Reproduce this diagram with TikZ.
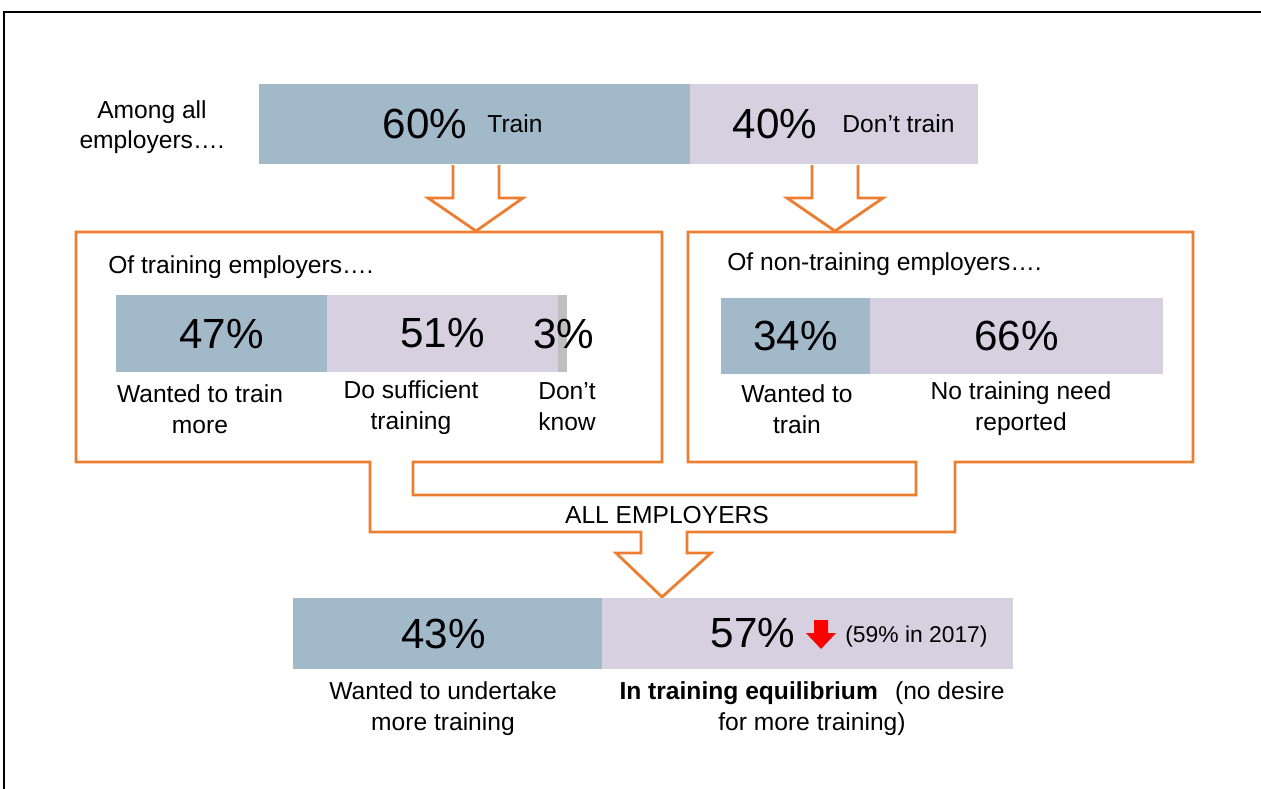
\documentclass[tikz,border=0pt]{standalone}
\usepackage{fontspec}
\setmainfont{Liberation Sans}
\usetikzlibrary{positioning}
\definecolor{barblue}{HTML}{A2B9C9}
\definecolor{barlilac}{HTML}{D6D0E1}
\definecolor{bargray}{HTML}{BFBFBF}
\definecolor{floworange}{HTML}{ED7D31}

\begin{document}
\begin{tikzpicture}[x=0.2mm, y=-0.2mm,
  bar/.style={rectangle, inner sep=0pt, draw=none},
  pct/.style={font=\fontsize{24}{28}\selectfont},
  lbl/.style={align=center, inner sep=0pt, font=\fontsize{14}{17.6}\selectfont},
  small/.style={inner sep=0pt, font=\fontsize{13}{15}\selectfont},
  flow/.style={draw=floworange, line width=1.6pt, line join=miter},
]
  \useasboundingbox (0,0) rectangle (1261,789);
  \draw[line width=1.2pt] (4,789) -- (4,12) -- (1261,12);

  % among all employers
  \node[lbl, font=\fontsize{14}{17}\selectfont] (among) at (152,127) {Among all\\employers….};
  \node[bar, fill=barblue, minimum width=86.2mm, minimum height=16mm] (train) at (474.5,124) {};
  \node[bar, fill=barlilac, minimum width=57.6mm, minimum height=16mm] (notrain) at (834,124) {};
  \node[pct, inner sep=0pt] (p60) at (425,124) {60\%};
  \node[lbl] (ttrain) at (515,124) {Train};
  \node[pct, inner sep=0pt] (p40) at (775,124) {40\%};
  \node[lbl] (tnotrain) at (898.5,124) {Don’t train};

  % block arrows down
  \draw[flow] (453,165) -- (453,198) -- (428,198) -- (476,231) -- (523,198) -- (499,198) -- (499,165);
  \draw[flow] (812,165) -- (812,198) -- (787,198) -- (835,231) -- (883,198) -- (858,198) -- (858,165);

  % both boxes and the merging arrow
  \draw[flow] (76,232) -- (662,232) -- (662,462) -- (413,462) -- (413,495) -- (916,495)
    -- (916,462) -- (688,462) -- (688,232) -- (1193,232) -- (1193,462) -- (955,462)
    -- (955,532) -- (687,532) -- (687,553) -- (711,553) -- (662,597) -- (616,553)
    -- (641,553) -- (641,532) -- (370,532) -- (370,462) -- (76,462) -- cycle;

  % training employers
  \node[lbl, anchor=west] (trtitle) at (108,267) {Of training employers….};
  \node[bar, fill=barblue, minimum width=42.2mm, minimum height=15.4mm, pct] (tr47) at (221.5,333.5) {47\%};
  \node[bar, fill=barlilac, minimum width=46.2mm, minimum height=15.4mm, pct] (tr51) at (442.5,333.5) {51\%};
  \node[bar, fill=bargray, minimum width=1.8mm, minimum height=15.4mm] (tr3) at (562.5,333.5) {};
  \node[pct, inner sep=0pt] (p3) at (564,333.5) {3\%};
  \node[lbl] (l47) at (200,409) {Wanted to train\\more};
  \node[lbl] (l51) at (411,408) {Do sufficient\\training};
  \node[lbl] (l3) at (567,407) {Don’t\\know};

  % non-training employers
  \node[lbl, anchor=west] (nttitle) at (727,264) {Of non-training employers….};
  \node[bar, fill=barblue, minimum width=29.8mm, minimum height=15.2mm, pct] (nt34) at (795.5,336) {34\%};
  \node[bar, fill=barlilac, minimum width=58.6mm, minimum height=15.2mm, pct] (nt66) at (1016.5,336) {66\%};
  \node[lbl] (l34) at (797,409) {Wanted to\\train};
  \node[lbl] (l66) at (1021,409) {No training need\\reported};

  \node[lbl] (allemp) at (667,515) {ALL EMPLOYERS};

  % all employers
  \node[bar, fill=barblue, minimum width=61.8mm, minimum height=14.2mm] (all43) at (447.5,633.5) {};
  \node[bar, fill=barlilac, minimum width=82.2mm, minimum height=14.2mm] (all57) at (807.5,633.5) {};
  \node[pct, inner sep=0pt] (p43) at (443.5,633.5) {43\%};
  \node[pct, inner sep=0pt] (p57) at (753,633.5) {57\%};
  \fill[red] (814,620) -- (828,620) -- (828,633) -- (836,633) -- (821,649) -- (806,633) -- (814,633) -- cycle;
  \node[small, anchor=west] (p2017) at (845,637) {(59\% in 2017)};
  \node[lbl] (l43) at (443,709) {Wanted to undertake\\more training};
  \node[lbl] (l57) at (812,709) {\textbf{In training equilibrium}\hspace{0.7em}(no desire\\for more training)};
\end{tikzpicture}
\end{document}
